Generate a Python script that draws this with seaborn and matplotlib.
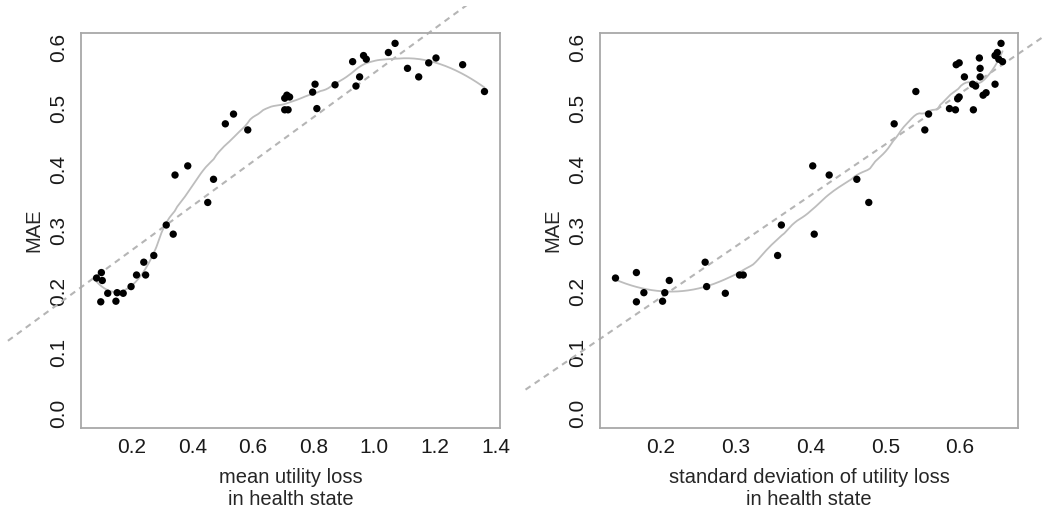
import numpy as np
import pandas as pd
import seaborn as sns
import matplotlib
matplotlib.use('Agg')
from matplotlib import pyplot as plt
from matplotlib.transforms import Bbox, TransformedBbox

# values
mean_loss = [0.343, 0.385, 0.470, 0.509, 0.536, 0.583, 0.705, 0.712, 0.721, 0.705,
             0.716, 0.797, 0.805, 0.811, 0.871, 0.929, 0.940, 0.952, 0.965, 0.974,
             1.047, 1.069, 1.110, 1.147, 1.180, 1.204, 1.292, 1.364,
             0.451, 0.314, 0.337, 0.273, 0.240, 0.216, 0.246, 0.198, 0.172, 0.152,
             0.121, 0.148, 0.098, 0.084, 0.100, 0.103]
mae_mean = [0.391, 0.406, 0.384, 0.475, 0.491, 0.465, 0.517, 0.522, 0.519, 0.498,
            0.498, 0.527, 0.540, 0.500, 0.539, 0.577, 0.537, 0.552, 0.587, 0.581,
            0.592, 0.607, 0.566, 0.552, 0.575, 0.583, 0.572, 0.528,
            0.346, 0.309, 0.294, 0.259, 0.248, 0.227, 0.227, 0.208, 0.197, 0.198,
            0.197, 0.184, 0.183, 0.222, 0.231, 0.218]

sd_loss = [0.403, 0.425, 0.462, 0.512, 0.541, 0.553, 0.558, 0.586, 0.594, 0.597,
           0.599, 0.595, 0.599, 0.606, 0.617, 0.621, 0.618, 0.626, 0.627, 0.627,
           0.631, 0.635, 0.647, 0.647, 0.650, 0.655, 0.657, 0.652,
           0.478, 0.361, 0.405, 0.356, 0.259, 0.305, 0.310, 0.261, 0.286, 0.205,
           0.177, 0.202, 0.167, 0.139, 0.167, 0.211]
mae_sd = [0.406, 0.391, 0.384, 0.475, 0.528, 0.465, 0.491, 0.500, 0.498, 0.516,
          0.519, 0.572, 0.575, 0.552, 0.540, 0.537, 0.498, 0.583, 0.566, 0.552,
          0.522, 0.526, 0.540, 0.587, 0.592, 0.607, 0.577, 0.581,
          0.346, 0.309, 0.294, 0.259, 0.248, 0.227, 0.227, 0.208, 0.197, 0.198,
          0.198, 0.184, 0.183, 0.222, 0.231, 0.218]

x_labels = ['mean utility loss\nin health state',
            'standard deviation of utility loss\nin health state']


def loess(x, y, span=0.4, degree=2, n_grid=150):
    # local polynomial fit with tricube weights, evaluated on a grid
    x = np.asarray(x, float)
    y = np.asarray(y, float)
    r = max(int(np.ceil(span * len(x))), degree + 2)
    grid = np.linspace(x.min(), x.max(), n_grid)
    out = []
    for g in grid:
        d = np.abs(x - g)
        h = np.sort(d)[r - 1] * 1.0001
        u = np.clip(d / h, 0, 1)
        w = (1 - u ** 3) ** 3
        keep = w > 0
        c = np.polyfit(x[keep] - g, y[keep], degree, w=np.sqrt(w[keep]))
        out.append(c[-1])
    return grid, np.array(out)


sns.set_style('white')
plt.rcParams['font.family'] = ['Liberation Sans', 'DejaVu Sans']
plt.rcParams['text.color'] = '#1a1a1a'

fig = plt.figure(figsize=(10.45, 5.13), dpi=100)
ax1 = fig.add_axes([81 / 1045, 1 - 428 / 513, 419 / 1045, 395 / 513])
ax2 = fig.add_axes([600 / 1045, 1 - 428 / 513, 418 / 1045, 395 / 513])

panels = [(ax1, mean_loss, mae_mean, 0.4, (6, 522)),
          (ax2, sd_loss, mae_sd, 0.4, (522, 1045))]

for k, (ax, xs, ys, span, (px0, px1)) in enumerate(panels):
    df = pd.DataFrame({'x': xs, 'y': ys})
    sns.scatterplot(data=df, x='x', y='y', ax=ax, color='black', s=28,
                    edgecolor='none', zorder=3)

    # smooth
    lx, ly = loess(df.x.values, df.y.values, span=span)
    ax.plot(lx, ly, color='#bdbdbd', lw=1.3, zorder=2)

    # R-style axis range (4% extension)
    lo, hi = df.x.min(), df.x.max()
    ext = (hi - lo) * 0.04
    ax.set_xlim(lo - ext, hi + ext)
    ax.set_ylim(-0.024, 0.624)

    # least squares line, not clipped to the plot box
    slope, icpt = np.polyfit(df.x, df.y, 1)
    xx = np.array([-2.0, 3.0])
    ln, = ax.plot(xx, icpt + slope * xx, color='#b5b5b5', lw=1.5,
                  linestyle=(0, (2.9, 2.4)), zorder=1, scalex=False, scaley=False)
    clip = TransformedBbox(Bbox([[px0 / 1045, 0], [px1 / 1045, 1 - 6 / 513]]),
                           fig.transFigure)
    ln.set_clip_box(clip)

    if k == 0:
        ax.set_xticks([0.2, 0.4, 0.6, 0.8, 1.0, 1.2, 1.4])
    else:
        ax.set_xticks([0.2, 0.3, 0.4, 0.5, 0.6])
    ax.set_yticks([0.0, 0.1, 0.2, 0.3, 0.4, 0.5, 0.6])
    ax.set_xticklabels([f'{t:.1f}' for t in ax.get_xticks()])
    ax.set_yticklabels([f'{t:.1f}' for t in ax.get_yticks()], rotation=90,
                       va='center')

    ax.tick_params(axis='both', direction='out', length=4.5, width=0.8,
                   color='#9a9a9a', labelsize=15, labelcolor='#1a1a1a')
    ax.tick_params(axis='x', pad=3)
    ax.tick_params(axis='y', pad=5)
    for sp in ax.spines.values():
        sp.set_color('#a8a8a8')
        sp.set_linewidth(1.3)

    ax.set_xlabel(x_labels[k], fontsize=14.5, linespacing=1.25, va='center')
    ax.xaxis.set_label_coords(0.5, -0.153)
    ax.set_ylabel('MAE', fontsize=14.5, va='center')
    ax.yaxis.set_label_coords(-0.112, 0.5)

plt.savefig('out.png', dpi=100)
